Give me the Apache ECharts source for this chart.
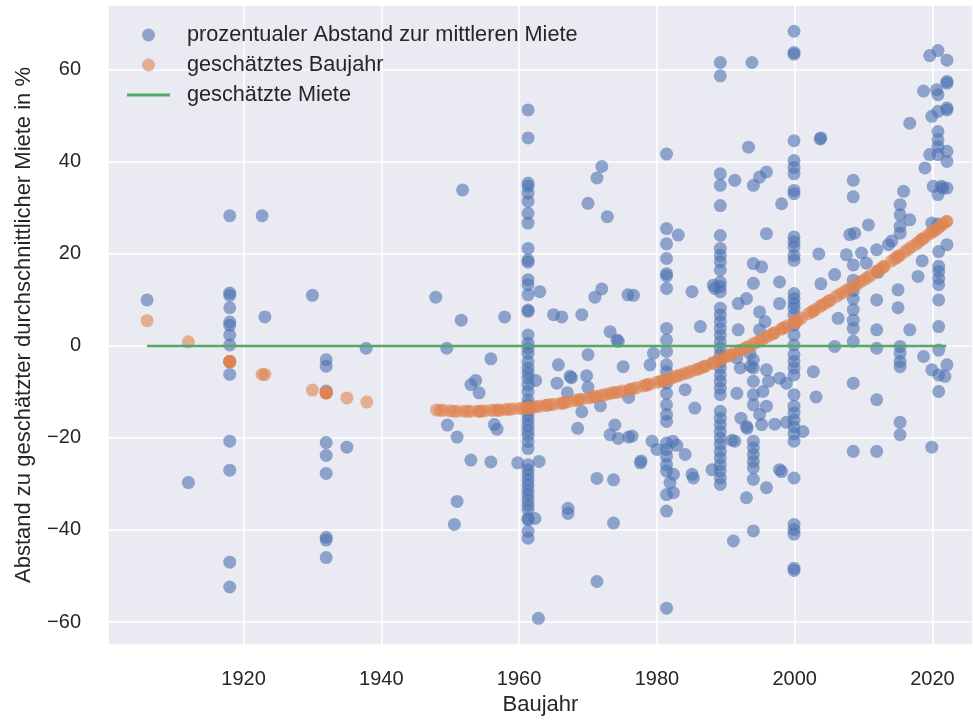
<!DOCTYPE html>
<html>
<head>
<meta charset="utf-8">
<script src="https://cdn.jsdelivr.net/npm/echarts@6/dist/echarts.min.js"></script>
<style>
  html, body { margin: 0; padding: 0; background: #ffffff; }
  #chart { width: 973px; height: 726px; }
</style>
</head>
<body>
<div id="chart"></div>
<script>
// ---------------- DATA ----------------
const xTickLabels = ['1920', '1940', '1960', '1980', '2000', '2020'];
const yTickLabels = ['-60', '-40', '-20', '0', '20', '40', '60'];

const seriesNames = ['prozentualer Abstand zur mittleren Miete', 'geschätztes Baujahr', 'geschätzte Miete'];

// blue points: [Baujahr, Abstand in %]
const blueEarly = [
  [1906,10],[1912,-29.7],
  [1918,28.3],[1918,11.5],[1918,11],[1918,8.3],[1918,5.2],[1918,4.5],[1918,2.4],[1918,0.2],[1918,-3.4],
  [1918,-6.2],[1918,-20.7],[1918,-27],[1918,-47],[1918,-52.4],
  [1922.7,28.3],[1923.1,6.3],[1930,11],
  [1932,-3],[1932,-4.4],[1932,-9.8],[1932,-21],[1932,-23.8],[1932,-27.7],[1932,-41.6],[1932,-42.2],[1932,-46],
  [1935,-22],[1937.8,-0.5],[1947.9,10.6],[1949.5,-0.5],[1949.6,-17.2]
];
const blue1950s = [
  [1951.8,33.9],[1951.6,5.6],[1957.9,6.3],[1955.9,-2.8],[1953,-8.4],[1953.7,-7.5],[1954.2,-10.2],
  [1951,-19.8],[1956.4,-17.1],[1956.8,-18.1],[1953,-24.8],[1955.9,-25.2],[1959.8,-25.4],[1951,-33.8],[1950.6,-38.8]
];
const col1961Year = 1961.3;
const col1961 = [51.3,45.2,35.4,34.7,33.2,31.4,28.8,26.7,21.2,18.7,18.2,14.4,13.3,11.1,7.8,7.5,2.4,0.6,-0.5,-1.6,
  -3.4,-4.8,-5.9,-7,-8.5,-9.9,-11.7,-12.8,-13.9,-15,-16.1,-17.2,-18.3,-19.4,-20.8,-22.3,-25.8,-26.9,-28,-29.1,
  -30.2,-31.3,-32.4,-33.5,-34.6,-35.6,-37.5,-37.8,-40.3,-41.8];
const blue1960s70s = [
  [1963,11.8],[1962.3,-37.5],[1962.9,-25.1],[1962.8,-59.2],[1962.4,-7.5],
  [1965,6.8],[1966.2,6.3],[1969.1,6.8],[1965.7,-4.1],[1965.5,-8.1],[1967.4,-6.6],[1967.6,-6.9],[1970,-1.9],
  [1969.8,-6.5],[1970,-9],[1969.1,-14.3],[1968.5,-17.9],[1971.3,-28.8],[1973.7,-29.1],[1967.1,-35.3],[1967.1,-36.4],
  [1973.7,-38.5],[1971.3,-51.2],[1971.3,36.5],[1972,39],[1970,31],[1972.8,28.1],[1971,10.6],[1972,12.4],
  [1973.2,3.1],[1974.2,1.3],[1974.4,1.0],[1975.1,-4.5],[1973.9,-17.2],[1973.2,-19.3],[1974.4,-20.1],[1975.8,11.1],
  [1967,-10.2],[1971.8,-13],[1975.9,-11.2],[1975.9,-19.8],[1977.6,-25.4],[1977.7,-25.0],[1976.6,11],[1979,-4.1],
  [1979.5,-1.6],[1976.4,-19.6],[1979.3,-20.7],[1980,-22.5]
];
const col1981Year = 1981.4;
const col1981 = [41.7,25.5,22.2,19,15.7,15.2,12.5,3.8,1.3,-1.2,-4.1,-5.6,-8.1,-10.3,-12.8,-14.9,-16.4,-21.1,-22.5,
  -24,-25.8,-27.2,-32.3,-35.9,-57];
const blue1980s = [
  [1983.1,24.1],[1985.1,11.8],[1986.3,4.2],[1984.1,-9.5],[1985.5,-13.5],[1984.1,-23.6],[1985.1,-27.9],[1985.3,-28.7],
  [1982.4,-27.9],[1981.9,-29.7],[1982.4,-31.9],[1988,-26.9],[1982.3,-20.7],[1982.9,-21.6]
];
const col1989Year = 1989.2;
const col1989 = [61.6,58.7,37.4,34.9,30.5,24,21.2,19.7,18.3,16.5,13.9,12.9,11.8,8.2,6.7,5.3,3.8,2.4,0.9,-0.5,-1.9,
  -3.4,-4.8,-6.3,-7.7,-9.2,-10.6,-14.2,-15.7,-17.1,-18.6,-20,-21.4,-22.9,-24.3,-25.8,-27.2,-28.7,-30.1];
const blue1990s = [
  [1988.2,13.2],[1988.4,12.5],[1991.3,-20.7],[1990.9,-20.5],[1991.3,36],[1994,34.9],[1994.9,36.7],[1995.9,37.8],
  [1993.3,43.2],[1993.8,61.6],[1998.1,30.9],[1995.9,24.4],[1994,17.9],[1995.2,17.2],[1994,13.6],[1991.8,9.2],
  [1993,10.3],[1994.9,7.4],[1995.7,5.3],[1994.9,3.5],[1991.8,3.5],[1997.8,13.9],[1997.8,9.2],[1991.6,-10.3],
  [1994,-3],[1994,-4.8],[1994,-7.7],[1994,-10.6],[1994,-12.8],[1995.9,-5.2],[1995.4,-9.9],[1995.9,-13.1],
  [1994.9,-14.9],[1995.2,-17.1],[1993,-17.5],[1993.1,-17.9],[1994,-20.7],[1994,-22.2],[1994,-23.6],[1994,-25.1],
  [1994,-26.5],[1994,-29],[1993,-33],[1995.9,-30.8],[1994,-40.2],[1991.1,-42.4],[1997.8,-26.9],[1998.1,-27.3],
  [1997.8,-7],[1998.8,-8.1],[1991.6,-2.6],[1992.1,-4.8],[1996.2,-7.7],[1992.2,-15.7],[1997.1,-17],[1998.8,-16.6],
  [1993.5,-1.6],[1993.6,-4.4]
];
const col2000Year = 1999.9;
const col2000 = [68.4,63.8,63.4,44.6,40.3,38.8,37.4,33.8,33.1,23.7,22.6,21.5,19.7,18.6,11.4,10.3,9.2,8.2,6.7,4.5,2.4,
  0.2,-1.9,-3.4,-4.8,-6.3,-10.6,-13.1,-14.6,-16.1,-17.6,-19.1,-20.7,-28.7,-38.8,-39.9,-40.9,-48.8,-48.3];
const blue2000s = [
  [2001.2,-18.6],[2002.7,-5.6],[2003.1,-11.1],[2003.7,45],[2003.8,45.2],[2003.5,20],[2003.8,13.5],
  [2006.3,6],[2005.8,15.5],[2005.8,-0.1],[2007.5,19.8],[2008,24.2],[2008.7,24.5],
  [2008.5,36],[2008.5,32.4],[2008.5,17.6],[2008.5,14.3],[2008.5,12],[2008.5,10.2],[2008.5,7.9],[2008.5,5.6],
  [2008.5,3.8],[2008.5,1],[2008.5,-8.1],[2008.5,-22.9],[2009.7,20.2],[2010.4,18],[2010.7,26.3],
  [2011.9,20.9],[2012.1,16],[2011.9,10],[2011.9,3.5],[2011.9,-0.5],[2011.9,-11.7],[2011.9,-22.9],
  [2013.6,22],[2014.1,22.8]
];
const blue2010s = [
  [2015.3,30.7],[2015.3,28.5],[2015.3,26],[2015.3,24.5],[2015.8,33.6],[2015,12.2],[2015,8.3],[2015.3,-0.1],
  [2015.3,-1.6],[2015.3,-3.4],[2015.3,-4.5],[2015.3,-16.6],[2015.3,-19.3],[2016.7,27.4],[2016.7,3.5],[2016.7,48.4],
  [2017.9,15.1],[2018.5,18.5],[2018.7,55.4],[2018.9,38.7],[2018.7,-2.3],[2019.9,-22],[2019.9,-5.2],
  [2019.6,63.1],[2020.8,64.2],[2022.1,62.1],[2020.6,55.7],[2022.1,57.1],[2022.1,57.5],[2020.8,54.6],
  [2019.9,49.9],[2020.8,51],[2022.1,51.3],[2022.1,51.7],[2020.8,46.6],[2020.8,44.8],[2020.8,43.3],[2022.1,42.3],
  [2020.8,41.6],[2019.6,41.6],[2022.1,40.1],[2020.1,34.7],[2021.3,34.7],[2022.1,34.3],[2020.8,32.9],[2021.5,34.3],
  [2019.9,26.7],[2020.8,26.5],[2022.1,22],[2020.9,20.5],[2020.9,17.3],[2020.9,16.2],[2020.9,14.7],[2020.9,13.3],
  [2020.9,10],[2020.9,4.2],[2020.9,-0.9],[2022.1,-4.1],[2021.8,-6.6],[2020.9,-6.3],[2020.9,-9.9]
];

// orange points: estimated value per Baujahr
const orangeEarly = [
  [1906,5.5],[1912,0.9],[1918,-3.4],[1918,-3.4],[1918,-3.4],[1918,-3.4],[1918,-3.4],
  [1922.7,-6.2],[1923.1,-6.2],[1930,-9.6],[1932,-10.2],[1932,-10.2],[1932,-10.2],[1932,-10.2],[1932,-10.2],
  [1935,-11.3],[1937.9,-12.2]
];
const orangeYears = [1948,1949,1950,1951,1952,1953,1954,1955,1956,1957,1958,1959,1960,1961,1962,1963,1964,1965,
  1966,1967,1968,1969,1970,1971,1972,1973,1974,1975,1976,1977,1978,1979,1980,1981,1982,1983,1984,1985,1986,1987,
  1988,1989,1990,1991,1992,1993,1994,1995,1996,1997,1998,1999,2000,2001,2002,2003,2004,2005,2006,2007,2008,2009,
  2010,2011,2012,2013,2014,2015,2016,2017,2018,2019,2020,2021,2022];
const orangeValues = [-13.9,-14.0,-14.1,-14.2,-14.2,-14.2,-14.2,-14.1,-14.0,-13.9,-13.8,-13.7,-13.6,-13.5,-13.3,
  -13.1,-12.9,-12.7,-12.5,-12.2,-11.9,-11.6,-11.3,-11.0,-10.7,-10.4,-10.1,-9.8,-9.5,-9.1,-8.7,-8.3,-7.9,-7.5,-7.0,
  -6.5,-6.0,-5.5,-5.0,-4.4,-3.8,-3.1,-2.4,-1.7,-1.0,-0.3,0.5,1.2,2.0,2.8,3.6,4.4,5.2,6.1,7.0,7.9,8.9,9.8,10.7,11.6,
  12.5,13.4,14.3,15.3,16.3,17.3,18.4,19.5,20.5,21.6,22.6,23.7,24.8,25.9,27.0];
// further orange readings along the band
const orangeExtra = [
  [1954.3,-14.2],[1961.3,-13.5],[1961.6,-13.5],[1966.4,-12.4],[1971.3,-11.0],[1976.1,-9.5],[1980.9,-7.6],
  [1981.4,-7.4],[1985.8,-5.1],[1988.1,-3.7],[1989.2,-3.0],[1990.6,-2.0],[1993.4,-0.1],[1995.4,1.5],[1998.3,3.9],
  [1999.9,5.1],[2000.3,5.4],[2002.7,7.6],[2005.1,9.9],[2007.5,12.1],[2009.5,13.9],[2011.9,16.2],[2014.8,19.2],
  [2015.3,19.7],[2017.7,22.2],[2019.6,24.4],[2020.1,24.9],[2020.8,25.6],[2022.1,27.1],[1957.1,-14.0],[1963.9,-12.9],
  [1968.7,-11.7],[1973.6,-10.2],[1978.5,-8.5],[1983.4,-6.3],[1987.0,-4.4],[1992.0,-1.0],[1997.0,2.8],[2003.7,8.6],
  [2012.9,17.2],[2018.5,23.2]
];
const orangeBand = [
  [1948.5,-14.0],[1950.5,-14.2],[1952.5,-14.2],[1954.5,-14.2],[1956.5,-14.0],[1958.5,-13.8],[1960.5,-13.6],
  [1962.5,-13.2],[1964.5,-12.8],[1966.5,-12.4],[1968.5,-11.8],[1970.5,-11.2],[1972.5,-10.6],[1974.5,-10.0],
  [1976.5,-9.3],[1978.5,-8.5],[1980.5,-7.7],[1982.5,-6.8],[1984.5,-5.8],[1986.5,-4.7],[1988.5,-3.5],[1990.5,-2.1],
  [1992.5,-0.7],[1994.5,0.8],[1996.5,2.4],[1998.5,4.0],[2000.5,5.6],[2002.5,7.4],[2004.5,9.3],[2006.5,11.2],
  [2008.5,12.9],[2010.5,14.8],[2012.5,16.8],[2014.5,18.9],[2016.5,21.0],[2018.5,23.2],[2020.5,25.3],[2021.5,26.4]
];

// green line: estimated rent (0 %)
const greenLine = [[1906,0],[2022,0]];

// ---------------- BUILD ----------------
function column(year, vals) { return vals.map(v => [year, v]); }
const blueData = [].concat(
  blueEarly, blue1950s, column(col1961Year, col1961), blue1960s70s,
  column(col1981Year, col1981), blue1980s, column(col1989Year, col1989), blue1990s,
  column(col2000Year, col2000), blue2000s, blue2010s
);
const orangeData = orangeEarly.concat(orangeYears.map((y, i) => [y, orangeValues[i]]), orangeExtra, orangeBand);

const FONT = 'Liberation Sans, Arial, sans-serif';
const TXT = '#262626';
const fmtMinus = v => (v < 0 ? '\u2212' + Math.abs(v) : String(v));

const chart = echarts.init(document.getElementById('chart'), null, { renderer: 'canvas' });
chart.setOption({
  animation: false,
  backgroundColor: '#ffffff',
  textStyle: { fontFamily: FONT },
  grid: { left: 108, right: 0, top: 5, bottom: 81, show: true, backgroundColor: '#eaeaf2', borderWidth: 0 },
  legend: {
    orient: 'vertical', left: 127, top: 24, padding: 0,
    itemWidth: 43, itemHeight: 13, itemGap: 8,
    textStyle: { fontSize: 21.7, color: TXT, fontFamily: FONT, padding: [0, 0, 0, 12] },
    data: [
      { name: seriesNames[0], icon: 'circle' },
      { name: seriesNames[1], icon: 'circle' },
      { name: seriesNames[2], icon: 'path://M0,0H43V3H0Z' }
    ]
  },
  xAxis: {
    type: 'value', min: 1900.33, max: 2025.88, splitNumber: 6,
    axisLine: { show: false }, axisTick: { show: false },
    splitLine: { show: true, lineStyle: { color: '#ffffff', width: 1.6 } },
    axisLabel: {
      fontSize: 20, color: TXT, margin: 24, showMinLabel: false, showMaxLabel: false,
      formatter: v => (xTickLabels.indexOf(String(v)) >= 0 ? String(v) : '')
    },
    name: 'Baujahr', nameLocation: 'middle', nameGap: 48,
    nameTextStyle: { fontSize: 22, color: TXT, fontFamily: FONT }
  },
  yAxis: {
    type: 'value', min: -65.0, max: 74.1, splitNumber: 7,
    axisLine: { show: false }, axisTick: { show: false },
    splitLine: { show: true, lineStyle: { color: '#ffffff', width: 1.6 } },
    axisLabel: {
      fontSize: 20, color: TXT, margin: 27, showMinLabel: false, showMaxLabel: false,
      formatter: v => (yTickLabels.indexOf(String(v)) >= 0 ? fmtMinus(v) : '')
    },
    name: 'Abstand zu geschätzter durchschnittlicher Miete in %', nameLocation: 'middle', nameGap: 73,
    nameTextStyle: { fontSize: 22, color: TXT, fontFamily: FONT }
  },
  series: [
    {
      name: seriesNames[0], type: 'scatter', data: blueData, symbol: 'circle', symbolSize: 13,
      itemStyle: { color: '#4c72b0', opacity: 0.6 }, emphasis: { disabled: true }, z: 2
    },
    {
      name: seriesNames[1], type: 'scatter', data: orangeData, symbol: 'circle', symbolSize: 13,
      itemStyle: { color: '#dd8452', opacity: 0.6 }, emphasis: { disabled: true }, z: 3
    },
    {
      name: seriesNames[2], type: 'line', data: greenLine, showSymbol: false, symbol: 'none',
      lineStyle: { color: '#55a868', width: 2.6 }, itemStyle: { color: '#55a868' },
      emphasis: { disabled: true }, z: 4
    }
  ]
});
</script>
</body>
</html>
